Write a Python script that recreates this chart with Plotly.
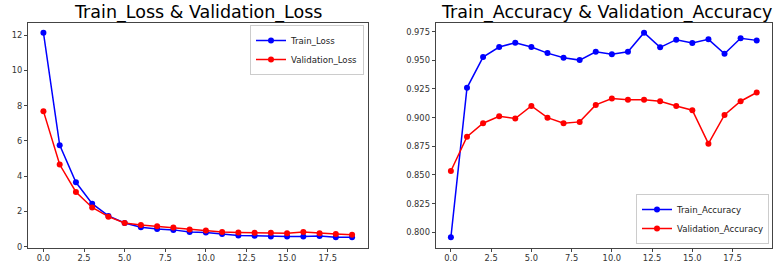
import plotly.graph_objects as go

epochs = list(range(20))
train_loss = [12.14, 5.76, 3.65, 2.44, 1.74, 1.34, 1.10, 1.00, 0.95, 0.83,
              0.80, 0.72, 0.63, 0.61, 0.57, 0.57, 0.57, 0.60, 0.53, 0.53]
val_loss = [7.69, 4.66, 3.10, 2.22, 1.70, 1.34, 1.23, 1.15, 1.08, 0.97,
            0.91, 0.83, 0.80, 0.79, 0.79, 0.76, 0.83, 0.76, 0.72, 0.68]
train_acc = [0.7956, 0.9260, 0.9528, 0.9616, 0.9654, 0.9616, 0.9563, 0.9523, 0.9502, 0.9575,
             0.9552, 0.9575, 0.9741, 0.9613, 0.9680, 0.9651, 0.9683, 0.9557, 0.9692, 0.9674]
val_acc = [0.8534, 0.8834, 0.8951, 0.9012, 0.8992, 0.9102, 0.9000, 0.8951, 0.8963, 0.9111,
           0.9167, 0.9155, 0.9155, 0.9143, 0.9102, 0.9065, 0.8773, 0.9024, 0.9143, 0.9219]

x_ticks = [0, 2.5, 5, 7.5, 10, 12.5, 15, 17.5]
loss_ticks = [0, 2, 4, 6, 8, 10, 12]
acc_ticks = [0.800, 0.825, 0.850, 0.875, 0.900, 0.925, 0.950, 0.975]

BLUE = "#0000ff"
RED = "#ff0000"
FONT = "DejaVu Sans"

fig = go.Figure()

def add(x, y, name, color, xa, ya, legend):
    fig.add_trace(go.Scatter(
        x=x, y=y, name=name, mode="lines+markers",
        line=dict(color=color, width=1.5),
        marker=dict(color=color, size=6),
        xaxis=xa, yaxis=ya, legend=legend,
    ))

add(epochs, train_loss, "Train_Loss", BLUE, "x", "y", "legend")
add(epochs, val_loss, "Validation_Loss", RED, "x", "y", "legend")
add(epochs, train_acc, "Train_Accuracy", BLUE, "x2", "y2", "legend2")
add(epochs, val_acc, "Validation_Accuracy", RED, "x2", "y2", "legend2")

axis_common = dict(
    showgrid=False, zeroline=False, showline=True, mirror=True,
    linecolor="#444", linewidth=1, ticks="outside", ticklen=3,
    tickcolor="#444", tickfont=dict(family=FONT, size=8.3, color="#333"),
)

ydom = [1 - 247.5 / 269, 1 - 22.5 / 269]

legend_common = dict(
    bgcolor="rgba(255,255,255,0.8)", bordercolor="#ccc", borderwidth=1,
    font=dict(family=FONT, size=8.6, color="#222"), itemwidth=30,
    tracegroupgap=0,
)

fig.update_layout(
    width=780, height=269,
    margin=dict(l=0, r=0, t=0, b=0, autoexpand=False),
    paper_bgcolor="white", plot_bgcolor="white",
    font=dict(family=FONT, color="#222"),
    xaxis=dict(domain=[28 / 780, 367.5 / 780], range=[-0.95, 19.95],
               tickvals=x_ticks, tickformat=".1f", anchor="y", **axis_common),
    yaxis=dict(domain=ydom, range=[-0.05, 12.72], tickvals=loss_ticks,
               anchor="x", **axis_common),
    xaxis2=dict(domain=[435.6 / 780, 772 / 780], range=[-0.95, 19.95],
                tickvals=x_ticks, tickformat=".1f", anchor="y2", **axis_common),
    yaxis2=dict(domain=ydom, range=[0.7867, 0.983], tickvals=acc_ticks,
                tickformat=".3f", anchor="x2", **axis_common),
    legend=dict(x=364 / 780, y=1 - 25 / 269, xanchor="right", yanchor="top",
                **legend_common),
    legend2=dict(x=769 / 780, y=1 - 244 / 269, xanchor="right", yanchor="bottom",
                 **legend_common),
    showlegend=True,
    annotations=[
        dict(text="Train_Loss & Validation_Loss", xref="paper", yref="paper",
             x=197.7 / 780, y=1 - 12 / 269, xanchor="center", yanchor="middle",
             showarrow=False, font=dict(family=FONT, size=17.5, color="black")),
        dict(text="Train_Accuracy & Validation_Accuracy", xref="paper", yref="paper",
             x=606 / 780, y=1 - 12 / 269, xanchor="center", yanchor="middle",
             showarrow=False, font=dict(family=FONT, size=17.5, color="black")),
    ],
)

fig.write_html(
    "out.html",
    config={"displayModeBar": False},
    post_script="document.body.style.margin='0';document.body.style.overflow='hidden';",
)
